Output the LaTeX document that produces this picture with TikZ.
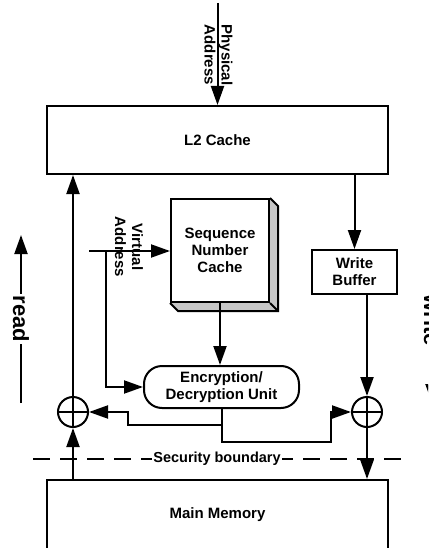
\documentclass[tikz,border=0pt]{standalone}
\usepackage{fontspec}
\setmainfont{Liberation Sans}
\usetikzlibrary{arrows.meta,calc}
\begin{document}
\begin{tikzpicture}[x=1pt,y=-1pt, line width=2pt,
  arr/.style={-{Triangle[length=19pt,width=13pt]}},
  lbl/.style={font=\bfseries\fontsize{15}{17}\selectfont, align=center},
  box/.style={draw, lbl, inner sep=0pt},
  xor/.style={draw, circle, minimum size=30pt, inner sep=0pt},
  big/.style={font=\bfseries\fontsize{22}{24}\selectfont, inner sep=1.5pt}]
\useasboundingbox (0,0) rectangle (428,548);
\clip (0,0) rectangle (428,548);
% boxes
\node[box, minimum width=341pt, minimum height=68pt] (l2) at (217.5,140) {L2 Cache};
\node[box, minimum width=341pt, minimum height=70pt] (mm) at (217.5,515) {Main Memory};
\node[box, minimum width=85pt, minimum height=44pt] (wb) at (354.5,272) {Write\\Buffer};
\node[box, fill=white, minimum width=98pt, minimum height=103pt] (snc) at (220,250.5) {Sequence\\Number\\Cache};
\fill[gray!45] (snc.north east) -- ($(snc.north east)+(8,8)$) -- ($(snc.south east)+(8,8)$) -- (snc.south east) -- cycle;
\fill[gray!45] (snc.south west) -- ($(snc.south west)+(8,8)$) -- ($(snc.south east)+(8,8)$) -- (snc.south east) -- cycle;
\draw[line join=miter] (snc.north east) -- ($(snc.north east)+(8,8)$) -- ($(snc.south east)+(8,8)$) -- ($(snc.south west)+(8,8)$) -- (snc.south west);
\draw (snc.south east) -- ($(snc.south east)+(8,8)$);
\node[box, rounded corners=18pt, minimum width=155pt, minimum height=42pt] (enc) at (221.5,387) {Encryption/\\Decryption Unit};
% xor
\node[xor] (xl) at (73,412) {};
\draw (xl.north) -- (xl.south) (xl.west) -- (xl.east);
\node[xor] (xr) at (367,412) {};
\draw (xr.north) -- (xr.south) (xr.west) -- (xr.east);
% physical address
\coordinate (pa) at (217.5,3);
\draw[arr] (pa) -- (l2.north);
\node[lbl, rotate=-90] (pat) at (218.5,55) {Physical\\Address};
% left path
\draw[arr] (xl.north) -- (xl.north |- l2.south);
\draw[arr] (xl.south |- mm.north) -- (xl.south);
% right path
\draw[arr] (wb.north |- l2.south) -- (wb.north);
\draw[arr] (xr.north |- wb.south) -- (xr.north);
\draw[arr] (xr.south) -- (xr.south |- mm.north);
% virtual address
\coordinate (va) at (89,251);
\coordinate (vb) at (106,251);
\draw[arr] (va) -- (va -| snc.west);
\draw[arr] (vb) |- (enc.west);
\node[lbl, rotate=-90] (vat) at (129,247) {Virtual\\Address};
% seq cache to enc
\draw[arr] (snc.south) -- (snc.south |- enc.north);
% enc outputs
\coordinate (el) at (128,425);
\coordinate (er) at (331,442);
\draw[arr] (enc.south) |- (el) |- (xl.east);
\draw[arr] (enc.south) |- (er) |- (xr.west);
% security boundary
\coordinate (sb1) at (33,459);
\coordinate (sb2) at (402,459);
\draw[dash pattern=on 17pt off 10pt] (sb1) -- (sb2);
\node[lbl, fill=white, inner sep=1pt, font=\bfseries\fontsize{14.5}{17}\selectfont] (sbt) at (217,459) {Security boundary};
% read / write
\coordinate (r1) at (21,403);
\coordinate (r2) at (21,235);
\draw[arr] (r1) -- (r2);
\node[big, fill=white, rotate=-90] (rt) at (21,319) {read};
\coordinate (w1) at (432,235);
\coordinate (w2) at (432,403);
\draw[arr] (w1) -- (w2);
\node[big, fill=white, rotate=-90] (wt) at (432,320) {write};
\end{tikzpicture}
\end{document}
